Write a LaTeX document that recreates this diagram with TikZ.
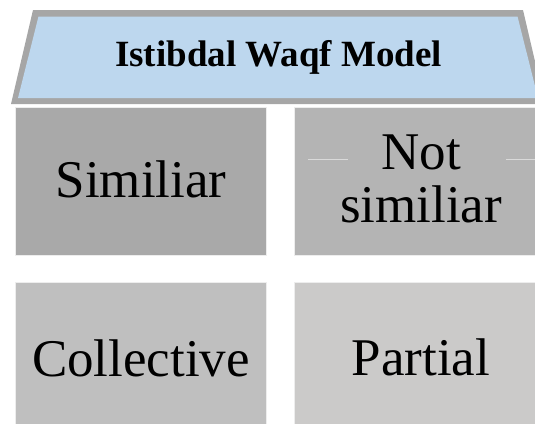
\documentclass[tikz,border=0pt]{standalone}
\usepackage{fontspec}
\setmainfont{Liberation Serif}
\definecolor{trapborder}{HTML}{A6A6A6}
\definecolor{trapfill}{HTML}{BDD7EE}
\definecolor{boxa}{HTML}{A9A9A9}
\definecolor{boxb}{HTML}{B4B4B4}
\definecolor{boxc}{HTML}{BFBFBF}
\definecolor{boxd}{HTML}{CBCAC9}
\definecolor{boxedge}{HTML}{EDEDED}
\definecolor{faint}{HTML}{DADADA}
\tikzset{
  cell/.style={draw=boxedge, line width=1pt, minimum width=251pt, minimum height=148pt, inner sep=0pt},
  bigtext/.style={font=\fontsize{53}{49}\selectfont, inner sep=0pt, anchor=base},
  titletext/.style={font=\fontsize{37}{40}\selectfont\bfseries, inner sep=0pt, anchor=base},
}
\begin{document}
\begin{tikzpicture}[x=1pt,y=-1pt]
\useasboundingbox (0,0) rectangle (535,423);
\clip (0,0) rectangle (535,423);
% header trapezoid
\fill[trapborder] (33,10) -- (523,10) -- (545,104) -- (11,104) -- cycle;
\fill[trapfill] (38.5,16.5) -- (517.5,16.5) -- (538,98) -- (18,98) -- cycle;
\node[titletext] (title) at (278.5,66) {Istibdal Waqf Model};
% cells
\node[cell, fill=boxa] (c1) at (140.5,181) {};
\node[cell, fill=boxb] (c2) at (419.5,181) {};
\node[cell, fill=boxc] (c3) at (140.5,356) {};
\node[cell, fill=boxd] (c4) at (419.5,356) {};
% faint marks in c2
\coordinate (f1) at (308,159);
\coordinate (f2) at (348,159);
\coordinate (f3) at (506,159);
\coordinate (f4) at (535,159);
\draw[faint, line width=0.6pt] (f1) -- (f2);
\draw[faint, line width=0.6pt] (f3) -- (f4);
% texts
\node[bigtext] (t1) at (141,197) {Similiar};
\node[bigtext] (t2a) at (421,169) {Not};
\node[bigtext] (t2b) at (421,222) {similiar};
\node[bigtext] (t3) at (141,376) {Collective};
\node[bigtext] (t4) at (421,375) {Partial};
\end{tikzpicture}
\end{document}
